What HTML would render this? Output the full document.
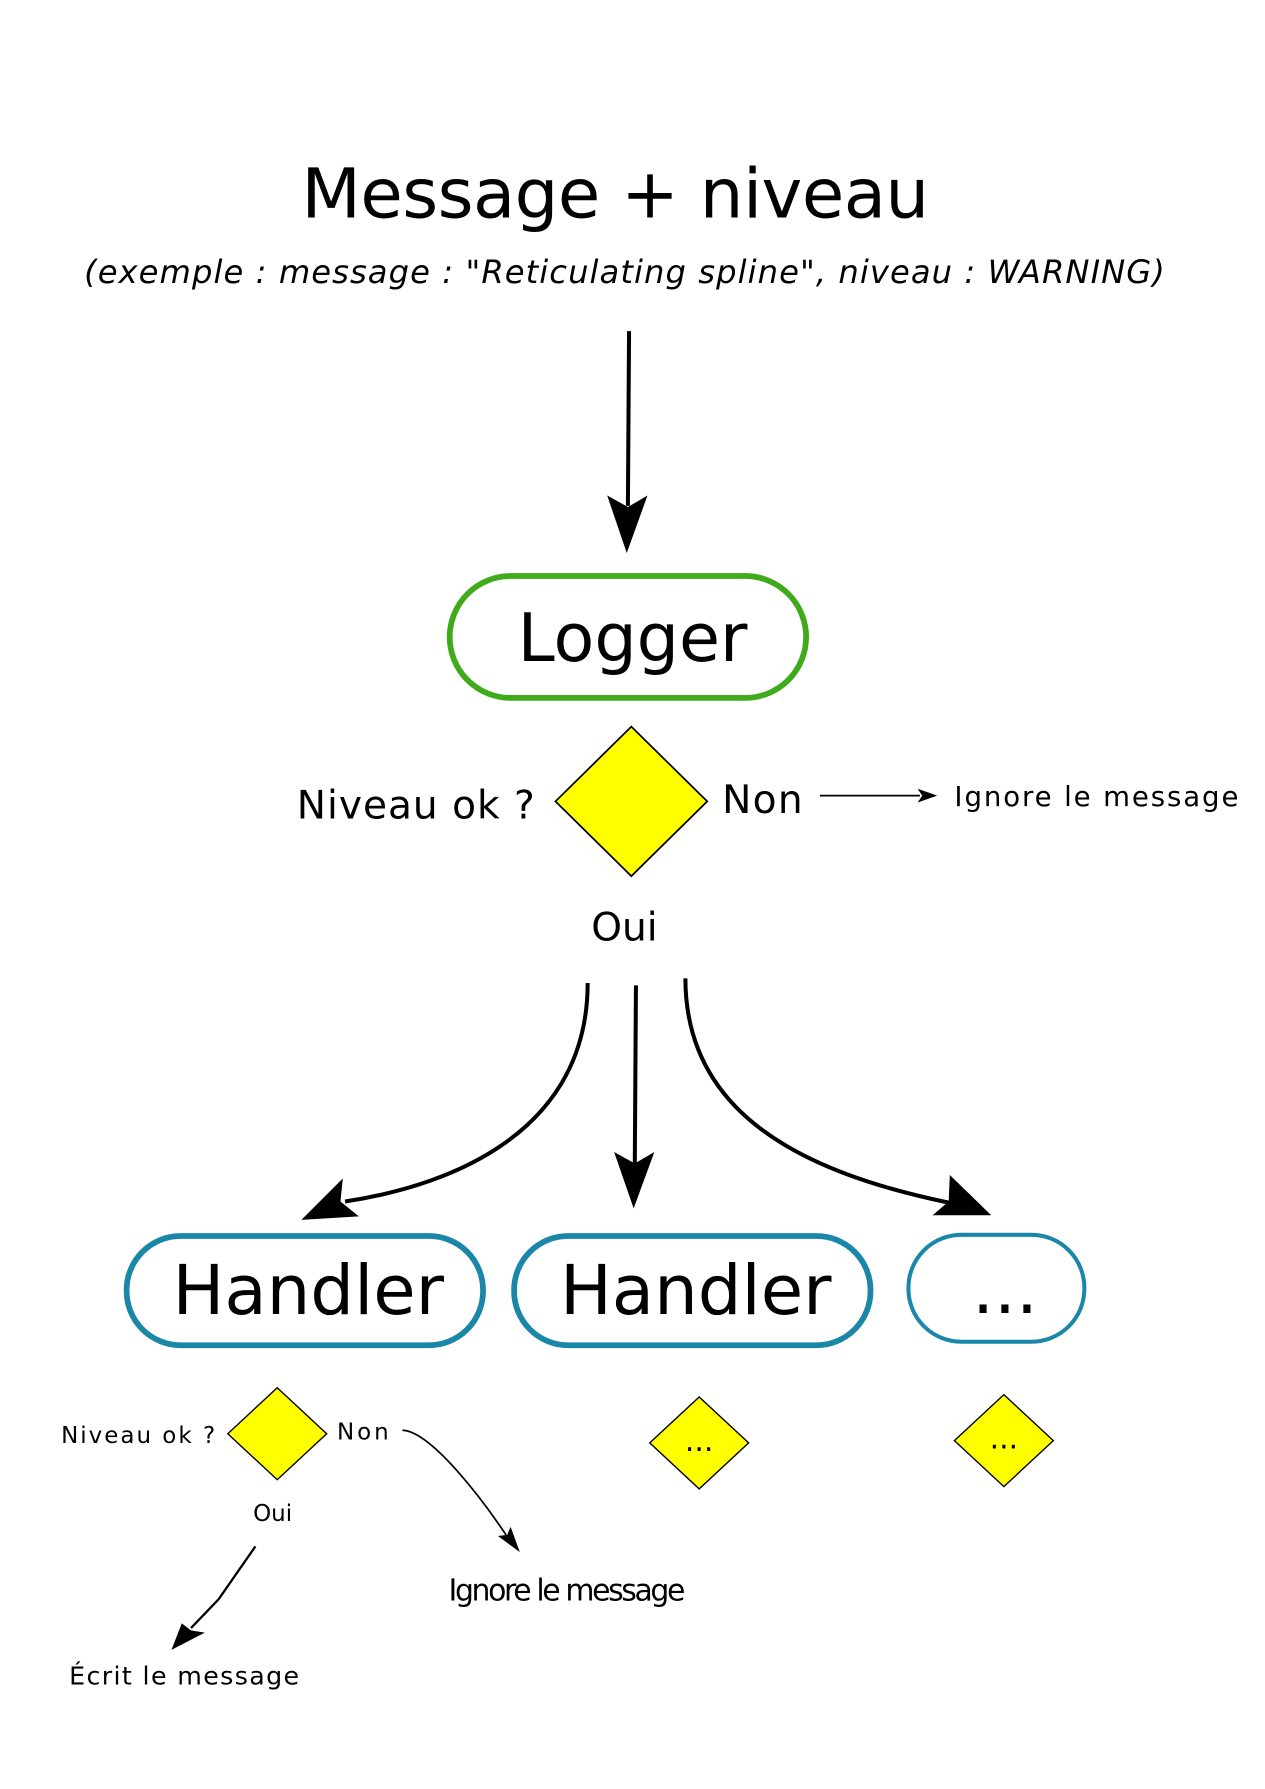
<!DOCTYPE html>
<html><head><meta charset="utf-8"><style>html,body{margin:0;padding:0;background:#fff}svg{display:block}</style></head>
<body>
<svg width="1265" height="1789" viewBox="0 0 1100 1556" xmlns="http://www.w3.org/2000/svg" font-family="'DejaVu Sans','Liberation Sans',sans-serif">
<defs>
<marker id="big" markerWidth="12" markerHeight="12" refX="0" refY="0" viewBox="-2 -6 14 12" orient="auto" markerUnits="userSpaceOnUse">
</marker>
</defs>
<rect width="1100" height="1556" fill="#fff"/>
<text x="535" y="189" font-size="60" text-anchor="middle" textLength="546">Message + niveau</text>
<text x="543" y="246" font-size="28" font-style="italic" text-anchor="middle" textLength="940">(exemple : message : "Reticulating spline", niveau : WARNING)</text>

<!-- top arrow -->
<path d="M547 288 L546 440" stroke="#000" stroke-width="3.5" fill="none"/>
<path d="M545 481 L528 431 L546 441 L563 431 Z" fill="#000"/>

<rect x="391" y="501" width="310" height="106" rx="53" fill="#fff" stroke="#3faa1a" stroke-width="5"/>
<text x="550" y="575" font-size="58" text-anchor="middle">Logger</text>

<polygon points="549,632 615,697 549,762 483,697" fill="#ffff00" stroke="#000" stroke-width="1.5"/>
<text x="258" y="712" font-size="34" textLength="207">Niveau ok ?</text>
<text x="628" y="707" font-size="34" textLength="70">Non</text>
<path d="M713 692 L800 692" stroke="#000" stroke-width="1.5"/>
<path d="M815 692 L798 686 L802 692 L798 698 Z" fill="#000"/>
<text x="830" y="701" font-size="24" textLength="247">Ignore le message</text>
<text x="543" y="818" font-size="34" text-anchor="middle">Oui</text>

<!-- three arrows -->
<path d="M511 855 C511 980 400 1030 300 1045" stroke="#000" stroke-width="3.5" fill="none"/>
<path d="M262 1061 L298 1025 L296 1045 L312 1058 Z" fill="#000"/>
<path d="M553 857 L552 1012" stroke="#000" stroke-width="3.5" fill="none"/>
<path d="M551 1051 L534 1002 L552 1012 L569 1002 Z" fill="#000"/>
<path d="M596 851 C596 970 700 1020 825 1046" stroke="#000" stroke-width="3.5" fill="none"/>
<path d="M862 1057 L811 1057 L825 1045 L826 1022 Z" fill="#000"/>

<rect x="110" y="1075" width="310" height="95" rx="47" fill="#fff" stroke="#1a87a9" stroke-width="5"/>
<text x="268" y="1143" font-size="60" text-anchor="middle">Handler</text>
<rect x="447" y="1075" width="310" height="95" rx="47" fill="#fff" stroke="#1a87a9" stroke-width="5"/>
<text x="605" y="1143" font-size="60" text-anchor="middle">Handler</text>
<rect x="790" y="1074" width="153" height="93" rx="46" fill="#fff" stroke="#1a87a9" stroke-width="3.5"/>
<text x="874" y="1142" font-size="60" text-anchor="middle">...</text>

<polygon points="241,1207 284,1247 241,1287 198,1247" fill="#ffff00" stroke="#000" stroke-width="1.2"/>
<text x="53" y="1255" font-size="20" textLength="134">Niveau ok ?</text>
<text x="293" y="1252" font-size="20" textLength="45">Non</text>
<text x="237" y="1323" font-size="20" text-anchor="middle">Oui</text>
<path d="M350 1244 C375 1245 420 1305 440 1335" stroke="#000" stroke-width="1.5" fill="none"/>
<path d="M452 1350 L433 1336 L441 1335 L444 1328 Z" fill="#000"/>
<text x="390" y="1392" font-size="26" textLength="206">Ignore le message</text>
<path d="M222 1345 L190 1391 L166 1416" stroke="#000" stroke-width="2" fill="none"/>
<path d="M149 1435 L158 1412 L166 1418 L178 1420 Z" fill="#000"/>
<text x="60" y="1465" font-size="22" textLength="200">Écrit le message</text>

<polygon points="608,1215 651,1255 608,1295 565,1255" fill="#ffff00" stroke="#000" stroke-width="1.2"/>
<text x="608" y="1262" font-size="26" text-anchor="middle">...</text>
<polygon points="873,1213 916,1253 873,1293 830,1253" fill="#ffff00" stroke="#000" stroke-width="1.2"/>
<text x="873" y="1260" font-size="26" text-anchor="middle">...</text>
</svg>
</body></html>
